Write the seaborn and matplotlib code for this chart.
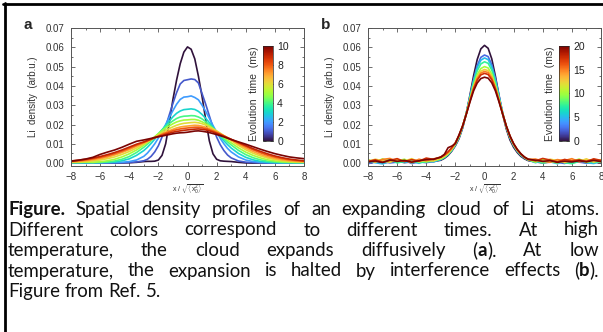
import numpy as np
import pandas as pd
import matplotlib
matplotlib.use("Agg")
import matplotlib.pyplot as plt
import seaborn as sns
from matplotlib.ticker import MultipleLocator, FormatStrFormatter
from matplotlib.colors import Normalize
from matplotlib.lines import Line2D

# x grid (in units of sqrt(<x0^2>)), finer in the centre
x_grid = [-8, -7.5, -7, -6.5, -6, -5.5, -5, -4.5, -4, -3.5,
          -3, -2.75, -2.5, -2.25, -2, -1.75, -1.5, -1.25, -1, -0.75, -0.5, -0.25,
          0, 0.25, 0.5, 0.75, 1, 1.25, 1.5, 1.75, 2, 2.25, 2.5, 2.75, 3,
          3.5, 4, 4.5, 5, 5.5, 6, 6.5, 7, 7.5, 8]

# panel a: evolution times (ms) and profiles, density in units of 1e-3 arb.u.
times_a = [0, 1, 2, 3, 4, 5, 6, 7, 8, 9, 10]
prof_a = [
    [0.1, 0.0, 0.1, 0.0, 0.1, 0.1, 0.0, 0.1, 0.2, 0.4,
     0.8, 0.9, 0.9, 1.0, 1.6, 4.0, 10.0, 21.0, 33.0, 43.0, 51.5, 57.5, 60.2, 59.0, 54.0,
     45.0, 34.5, 22.5, 11.5, 4.8, 2.0, 1.2, 1.0, 0.9, 0.8,
     0.4, 0.1, 0.0, 0.1, 0.0, 0.1, 0.0, 0.1, 0.0, 0.1],
    [0.1, 0.1, 0.0, 0.1, 0.1, 0.2, 0.1, 0.2, 0.3, 0.6,
     1.2, 2.0, 3.5, 5.8, 9.0, 13.5, 19.0, 25.0, 31.0, 36.5, 41.0, 42.8, 43.2, 43.6, 43.3,
     41.5, 36.0, 30.5, 24.5, 18.5, 13.5, 9.5, 6.5, 4.2, 2.7,
     1.1, 0.5, 0.3, 0.2, 0.1, 0.1, 0.0, 0.1, 0.1, 0.0],
    [0.2, 0.1, 0.2, 0.1, 0.2, 0.2, 0.3, 0.4, 0.8, 1.6,
     3.5, 5.2, 7.5, 10.0, 13.0, 16.5, 20.0, 23.7, 27.2, 30.5, 33.0, 34.2, 34.4, 34.8, 34.0,
     32.8, 30.0, 26.8, 23.2, 19.5, 16.0, 12.8, 10.0, 7.6, 5.8,
     3.2, 1.6, 0.8, 0.4, 0.2, 0.2, 0.1, 0.2, 0.1, 0.1],
    [0.2, 0.3, 0.2, 0.3, 0.3, 0.5, 0.6, 1.2, 2.2, 4.0,
     6.5, 8.2, 10.2, 12.4, 14.8, 17.2, 19.5, 21.8, 24.0, 25.8, 27.0, 27.7, 27.9, 28.1, 27.8,
     26.8, 25.2, 23.2, 21.0, 18.6, 16.2, 13.8, 11.6, 9.6, 7.8,
     5.0, 3.0, 1.7, 0.9, 0.5, 0.3, 0.2, 0.3, 0.2, 0.2],
    [0.3, 0.3, 0.4, 0.3, 0.4, 0.6, 1.1, 2.0, 3.4, 5.5,
     8.2, 9.8, 11.6, 13.4, 15.3, 17.2, 18.9, 20.5, 21.9, 23.1, 23.9, 24.3, 24.4, 24.6, 24.5,
     23.9, 22.9, 21.5, 19.9, 18.1, 16.3, 14.5, 12.7, 11.0, 9.4,
     6.6, 4.4, 2.8, 1.7, 1.0, 0.6, 0.4, 0.3, 0.3, 0.3],
    [0.4, 0.4, 0.5, 0.4, 0.7, 1.2, 2.0, 3.2, 4.8, 6.8,
     9.3, 10.7, 12.2, 13.7, 15.2, 16.7, 18.1, 19.3, 20.4, 21.3, 21.9, 22.3, 22.4, 22.6, 22.6,
     22.2, 21.4, 20.4, 19.2, 17.8, 16.4, 14.9, 13.4, 11.9, 10.5,
     7.9, 5.7, 4.0, 2.7, 1.7, 1.1, 0.7, 0.5, 0.4, 0.4],
    [0.5, 0.6, 0.8, 1.1, 1.6, 2.3, 3.2, 4.5, 6.0, 7.8,
     9.9, 11.0, 12.2, 13.4, 14.6, 15.8, 16.9, 17.9, 18.8, 19.6, 20.2, 20.6, 20.8, 21.0, 21.1,
     20.9, 20.4, 19.7, 18.8, 17.8, 16.7, 15.5, 14.2, 12.9, 11.6,
     9.1, 6.9, 5.1, 3.7, 2.6, 1.8, 1.2, 0.9, 0.7, 0.6],
    [0.7, 0.9, 1.2, 1.7, 2.3, 3.1, 4.2, 5.5, 7.0, 8.7,
     10.4, 11.3, 12.3, 13.2, 14.2, 15.1, 16.0, 16.8, 17.5, 18.2, 18.7, 19.0, 19.2, 19.4, 19.6,
     19.5, 19.1, 18.6, 17.9, 17.1, 16.2, 15.2, 14.2, 13.1, 12.0,
     9.8, 7.8, 6.0, 4.5, 3.3, 2.4, 1.7, 1.2, 0.9, 0.7],
    [0.9, 1.2, 1.6, 2.2, 2.9, 3.8, 4.9, 6.2, 7.7, 9.3,
     10.8, 11.6, 12.4, 13.2, 14.0, 14.8, 15.5, 16.2, 16.8, 17.3, 17.7, 18.0, 18.2, 18.4, 18.6,
     18.6, 18.3, 17.9, 17.3, 16.6, 15.8, 15.0, 14.1, 13.2, 12.3,
     10.4, 8.6, 6.9, 5.4, 4.1, 3.1, 2.3, 1.7, 1.3, 1.0],
    [1.1, 1.5, 2.0, 2.6, 3.4, 4.4, 5.5, 6.8, 8.3, 9.8,
     11.0, 11.7, 12.4, 13.1, 13.7, 14.3, 14.9, 15.5, 16.0, 16.4, 16.7, 17.0, 17.2, 17.4, 17.6,
     17.7, 17.5, 17.2, 16.7, 16.1, 15.4, 14.7, 13.9, 13.1, 12.3,
     10.7, 9.1, 7.5, 6.1, 4.8, 3.7, 2.8, 2.1, 1.6, 1.2],
    [1.0, 1.5, 2.1, 3.0, 4.5, 5.7, 6.8, 8.2, 9.8, 11.3,
     12.0, 12.4, 12.8, 13.3, 13.7, 14.0, 14.4, 14.8, 15.2, 15.5, 15.7, 15.8, 16.0, 16.3, 16.6,
     16.7, 16.5, 16.2, 15.8, 15.3, 14.8, 14.2, 13.6, 12.9, 12.2,
     11.0, 9.8, 8.5, 7.2, 6.0, 4.9, 4.0, 3.2, 2.7, 2.3],
]

# panel b: evolution times (ms) and profiles, density in units of 1e-3 arb.u.
times_b = [0, 2.5, 5, 7.5, 10, 12.5, 15, 17.5, 20]
prof_b = [
    [0.3, 0.8, 0.2, 0.5, 0.9, 0.3, 0.6, 0.4, 0.9, 0.8,
     1.5, 2.5, 4.0, 6.2, 9.0, 12.7, 18.2, 25.8, 35.2, 45.2, 53.7, 59.2, 61.0, 59.5, 54.0,
     45.0, 34.8, 25.2, 17.6, 12.0, 8.2, 5.5, 3.5, 2.2, 1.3,
     0.6, 0.2, 0.5, 0.9, 0.3, 0.4, 0.8, 0.2, 0.5, 0.3],
    [-0.3, 0.6, 1.2, 0.1, 0.5, 1.4, -0.2, 0.7, 0.2, 1.0,
     1.8, 2.9, 4.4, 6.5, 9.3, 13.2, 18.6, 25.8, 34.5, 43.2, 50.5, 54.8, 56.0, 55.2, 51.0,
     43.8, 35.0, 26.0, 18.6, 13.0, 9.0, 6.1, 4.0, 2.6, 1.6,
     0.9, 0.1, 1.3, 0.4, -0.2, 1.1, 0.5, 0.0, 1.2, 0.3],
    [1.1, 0.2, -0.4, 0.9, 1.6, 0.3, 1.0, -0.1, 1.3, 0.6,
     1.9, 3.0, 4.5, 6.6, 9.5, 13.4, 18.8, 25.8, 34.2, 42.6, 49.4, 53.3, 54.5, 53.6, 49.8,
     42.9, 34.4, 25.9, 18.7, 13.2, 9.2, 6.3, 4.2, 2.7, 1.7,
     0.2, 1.4, 0.7, -0.3, 1.0, 0.5, 1.5, 0.2, -0.2, 0.8],
    [0.4, 1.5, 0.8, 2.0, 0.1, 0.9, 1.4, 0.3, 0.6, 1.2,
     2.0, 3.1, 4.6, 6.8, 9.7, 13.6, 19.0, 25.8, 33.8, 41.5, 47.8, 51.4, 52.5, 51.7, 48.2,
     41.8, 33.8, 25.7, 18.8, 13.4, 9.4, 6.4, 4.3, 2.8, 1.7,
     1.3, 0.0, 0.8, 1.6, 0.2, -0.3, 0.9, 1.4, 0.3, 1.0],
    [1.8, 0.5, 2.2, 0.9, 1.1, 2.0, 0.2, 1.6, 0.7, 1.4,
     2.2, 3.3, 4.8, 7.0, 9.9, 13.8, 19.1, 25.6, 33.1, 40.2, 45.8, 49.0, 50.0, 49.3, 46.1,
     40.3, 33.1, 25.6, 18.9, 13.6, 9.6, 6.6, 4.5, 2.9, 1.8,
     0.5, 1.9, 1.0, 0.1, 1.7, 0.8, 2.1, 0.4, 1.2, 0.6],
    [0.8, 2.0, 1.2, 0.4, 1.9, 1.0, 2.3, 0.6, 1.7, 1.1,
     2.6, 3.6, 5.1, 7.3, 10.1, 14.0, 19.2, 25.5, 32.7, 39.4, 44.6, 47.6, 48.5, 47.9, 44.9,
     39.5, 32.7, 25.5, 19.0, 13.8, 9.7, 6.7, 4.6, 3.0, 1.9,
     1.6, 0.7, 2.0, 1.3, 0.3, 1.5, 0.9, 2.2, 0.5, 1.8],
    [1.5, 0.6, 1.9, 2.4, 0.9, 1.3, 0.4, 2.0, 1.2, 2.2,
     3.0, 4.0, 5.5, 7.6, 10.4, 14.2, 19.3, 25.5, 32.4, 38.9, 43.8, 46.6, 47.5, 46.9, 44.1,
     38.9, 32.4, 25.5, 19.1, 13.9, 9.9, 6.9, 4.7, 3.0, 1.9,
     2.1, 1.0, 0.4, 1.8, 1.3, 2.3, 0.7, 1.1, 1.9, 0.9],
    [0.9, 1.7, 0.5, 1.4, 2.3, 0.8, 1.8, 1.0, 2.6, 1.9,
     3.2, 4.3, 5.9, 8.0, 10.6, 14.4, 19.4, 25.4, 32.1, 38.4, 43.0, 45.7, 46.5, 45.9, 43.2,
     38.4, 32.1, 25.4, 19.1, 14.0, 10.0, 7.0, 4.8, 3.1, 2.0,
     1.2, 2.4, 1.6, 0.6, 1.9, 1.1, 1.7, 0.8, 2.2, 1.4],
    [0.6, 1.1, 0.3, 1.6, 0.9, 1.4, 0.5, 1.2, 1.8, 2.0,
     3.1, 4.6, 8.0, 8.8, 10.1, 14.6, 19.2, 25.3, 31.6, 37.4, 41.5, 43.8, 44.5, 44.0, 41.6,
     37.4, 31.6, 25.3, 19.2, 14.1, 10.1, 7.1, 4.8, 3.1, 2.0,
     1.5, 0.9, 1.3, 0.4, 1.0, 0.6, 1.2, 0.7, 1.4, 0.8],
]

cbar_ticks_a = [0, 2, 4, 6, 8, 10]
cbar_ticks_b = [0, 5, 10, 15, 20]

caption_lines = [
    [[("Figure.", True)], "Spatial", "density", "profiles", "of", "an", "expanding",
     "cloud", "of", "Li", "atoms."],
    ["Different", "colors", "correspond", "to", "different", "times.", "At", "high"],
    ["temperature,", "the", "cloud", "expands", "diffusively",
     [("(", False), ("a", True), (").", False)], "At", "low"],
    ["temperature,", "the", "expansion", "is", "halted", "by", "interference", "effects",
     [("(", False), ("b", True), (").", False)]],
    ["Figure", "from", "Ref.", "5."],
]


def to_long(times, profiles):
    rows = []
    for t, prof in zip(times, profiles):
        for x, v in zip(x_grid, prof):
            rows.append({"x": x, "density": v / 1000.0, "time": t})
    return pd.DataFrame(rows)


df_a = to_long(times_a, prof_a)
df_b = to_long(times_b, prof_b)

sns.set_style("ticks")
plt.rcParams["font.family"] = ["Liberation Sans", "DejaVu Sans"]
plt.rcParams["mathtext.fontset"] = "custom"
plt.rcParams["mathtext.rm"] = "Liberation Sans"
plt.rcParams["mathtext.it"] = "Liberation Sans:italic"

W, H = 603, 332
fig = plt.figure(figsize=(W / 100, H / 100), dpi=100)
txt_col = "#333333"


def fx(px):
    return px / W


def fy(py):
    return 1 - py / H


def panel(left_px, times, df, tmax, ticks, letter, cbar_left_px):
    ax = fig.add_axes([fx(left_px), fy(166), 233 / W, 138 / H])
    sns.lineplot(data=df, x="x", y="density", hue="time", palette="turbo",
                 hue_norm=(0, tmax), legend=False, ax=ax, lw=1.2, sort=True,
                 estimator=None)
    ax.set_xlim(-8, 8)
    ax.set_ylim(-0.0015, 0.07)
    ax.xaxis.set_major_locator(MultipleLocator(2))
    ax.xaxis.set_minor_locator(MultipleLocator(1))
    ax.yaxis.set_major_locator(MultipleLocator(0.01))
    ax.yaxis.set_minor_locator(MultipleLocator(0.005))
    ax.yaxis.set_major_formatter(FormatStrFormatter("%.2f"))
    ax.tick_params(which="both", direction="in", top=True, right=True,
                   colors="#555555", labelcolor=txt_col, labelsize=7, width=0.6)
    ax.tick_params(which="major", length=3)
    ax.tick_params(which="minor", length=1.5)
    ax.tick_params(axis="x", which="major", pad=4.5)
    ax.tick_params(axis="y", which="major", pad=5)
    for s in ax.spines.values():
        s.set_linewidth(0.7)
        s.set_color("#555555")
    ax.set_xlabel(r"x / $\sqrt{\langle \mathrm{x}_0^2\rangle}$", fontsize=5,
                  color=txt_col, labelpad=0.5)
    ax.set_ylabel("Li  density  (arb.u.)", fontsize=7, color=txt_col, labelpad=5)
    fig.text(fx(left_px - 47), fy(25), letter, fontsize=11, fontweight="bold",
             va="center", ha="left")

    cax = fig.add_axes([fx(cbar_left_px), fy(141), 10 / W, 95 / H])
    sm = plt.cm.ScalarMappable(cmap="turbo", norm=Normalize(0, tmax))
    cb = fig.colorbar(sm, cax=cax)
    cb.set_ticks(ticks)
    cb.outline.set_linewidth(0.5)
    cax.tick_params(direction="in", length=2, width=0.5, left=True, right=True,
                    labelsize=7.5, pad=3, colors="#333333", labelcolor="#222222")
    cb.set_label("Evolution  time  (ms)", fontsize=7.5, color=txt_col, labelpad=3)
    cax.yaxis.set_label_position("left")
    return ax


panel(71, times_a, df_a, 10, cbar_ticks_a, "a", 263)
panel(368, times_b, df_b, 20, cbar_ticks_b, "b", 559)

# frame around the figure
fig.add_artist(Line2D([fx(3), fx(W + 5)], [fy(4), fy(4)], color="black", lw=2.0))
fig.add_artist(Line2D([fx(4.5), fx(4.5)], [fy(3), fy(H + 5)], color="black", lw=2.0))

# caption, justified
cap_size = 13.4
renderer = fig.canvas.get_renderer()


def seg_width(s, bold):
    t = fig.text(0, 0, s, fontsize=cap_size, family="Lato",
                 fontweight="bold" if bold else "normal")
    w = t.get_window_extent(renderer=renderer).width
    t.remove()
    return w


def norm_word(w):
    return [(w, False)] if isinstance(w, str) else w


space_w = seg_width("a a", False) - seg_width("aa", False)
x_left, x_right = 8, 599
for i, line in enumerate(caption_lines):
    words = [norm_word(w) for w in line]
    widths = [[seg_width(s, b) for s, b in w] for w in words]
    totals = [sum(ws) for ws in widths]
    justify = i < len(caption_lines) - 1
    gap = (x_right - x_left - sum(totals)) / (len(words) - 1) if justify else space_w
    y = 215 + i * 20.5
    xpos = x_left
    for w, ws in zip(words, widths):
        xs = xpos
        for (s, b), sw in zip(w, ws):
            fig.text(fx(xs), fy(y), s, fontsize=cap_size, family="Lato",
                     fontweight="bold" if b else "normal", va="baseline",
                     ha="left", color="#111111")
            xs += sw
        xpos += sum(ws) + gap

fig.savefig("out.png", dpi=100)
